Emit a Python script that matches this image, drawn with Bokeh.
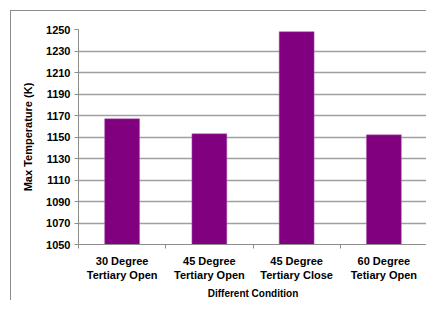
from bokeh.plotting import figure
from bokeh.embed import file_html
from bokeh.resources import INLINE
from bokeh.models import FixedTicker, Range1d

categories = ["30 Degree\nTertiary Open", "45 Degree\nTertiary Open",
              "45 Degree\nTertiary Close", "60 Degree\nTetiary Open"]
max_temp = [1167, 1153, 1248, 1152]
y_ticks = [1050, 1070, 1090, 1110, 1130, 1150, 1170, 1190, 1210, 1230, 1250]

FONT = "Liberation Sans"
xpos = [i + 0.5 for i in range(len(categories))]

p = figure(x_range=Range1d(0, len(categories)), y_range=Range1d(1050, 1250),
           width=416, height=290, output_backend="svg", toolbar_location=None,
           min_border_left=67, min_border_right=0, min_border_top=18, min_border_bottom=54)
p.styles = {"border-top": "1px solid #8c8c8c", "border-left": "1px solid #8c8c8c",
            "margin-top": "10px", "margin-left": "10px"}

p.vbar(x=xpos, top=max_temp, bottom=1050, width=0.4,
       fill_color="#800080", line_color="#b060b0", line_width=0.5)

p.outline_line_color = None
p.xgrid.grid_line_color = None
p.ygrid.grid_line_color = "#a0a0a0"
p.ygrid.grid_line_width = 1.5
p.yaxis.ticker = FixedTicker(ticks=y_ticks)
p.xaxis.ticker = FixedTicker(ticks=xpos, minor_ticks=list(range(len(categories) + 1)))
p.xaxis.major_label_overrides = {x: c for x, c in zip(xpos, categories)}

for ax in (p.xaxis[0], p.yaxis[0]):
    ax.axis_line_color = "#8c8c8c"
    ax.major_tick_line_color = "#8c8c8c"
    ax.major_label_text_font = FONT
    ax.major_label_text_font_style = "bold"
    ax.major_label_text_font_size = "11px"
    ax.major_label_text_color = "#000000"
    ax.axis_label_text_font = FONT
    ax.axis_label_text_font_style = "bold"
    ax.axis_label_text_color = "#000000"

p.yaxis.minor_tick_line_color = None
p.yaxis.major_tick_out = 4
p.yaxis.major_tick_in = 0
p.yaxis.major_label_standoff = 4
p.yaxis.axis_label = "Max Temperature (K)"
p.yaxis.axis_label_text_font_size = "11px"
p.yaxis.axis_label_standoff = 9

p.xaxis.major_tick_line_color = None
p.xaxis.major_tick_out = 0
p.xaxis.major_tick_in = 0
p.xaxis.minor_tick_line_color = "#8c8c8c"
p.xaxis.minor_tick_out = 4
p.xaxis.minor_tick_in = 0
p.xaxis.major_label_standoff = 6
p.xaxis.axis_label = "Different Condition"
p.xaxis.axis_label_text_font_size = "10px"
p.xaxis.axis_label_standoff = 4

open("out.html", "w").write(file_html(p, INLINE))
